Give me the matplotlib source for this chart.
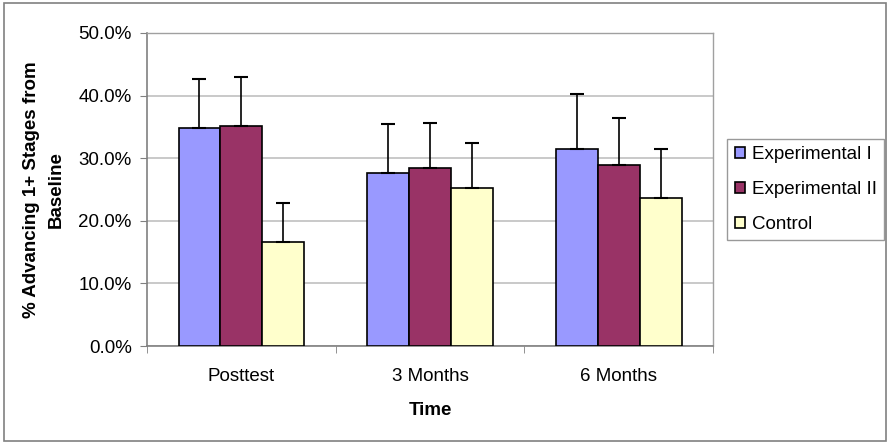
import numpy as np
import matplotlib
matplotlib.use("Agg")
import matplotlib.pyplot as plt
from matplotlib.patches import Rectangle
from matplotlib.ticker import PercentFormatter, FixedLocator

plt.rcParams["font.family"] = ["Liberation Sans", "DejaVu Sans"]

categories = ["Posttest", "3 Months", "6 Months"]
series_names = ["Experimental I", "Experimental II", "Control"]
exp1 = [34.9, 27.7, 31.5]
exp2 = [35.1, 28.4, 28.9]
control = [16.6, 25.2, 23.6]
exp1_err = [7.7, 7.7, 8.8]
exp2_err = [7.8, 7.3, 7.5]
control_err = [6.2, 7.2, 7.9]
colors = ["#9999ff", "#993366", "#ffffcc"]

fs = 13.5

fig = plt.figure(figsize=(8.9, 4.44), dpi=100)
ax = fig.add_axes([0.1652, 0.2207, 0.6360, 0.705])

x = np.arange(len(categories))
width = 0.222
values = [exp1, exp2, control]
errs = [exp1_err, exp2_err, control_err]
for i, (vals, err) in enumerate(zip(values, errs)):
    pos = x + (i - 1) * width
    ax.bar(pos, vals, width, color=colors[i], edgecolor="black", linewidth=1.2,
           label=series_names[i], zorder=3)
    ax.errorbar(pos, vals, yerr=[np.zeros(len(err)), err], fmt="none",
                ecolor="black", elinewidth=1.2, capsize=5, capthick=1.5, zorder=4)

ax.set_xlim(-0.5, len(categories) - 0.5)
ax.set_ylim(0, 50)
ax.yaxis.set_major_locator(FixedLocator([0, 10, 20, 30, 40, 50]))
ax.yaxis.set_major_formatter(PercentFormatter(decimals=1))
ax.set_xticks(x)
ax.set_xticklabels(categories)
ax.tick_params(axis="x", length=0, labelsize=fs, pad=16)
ax.tick_params(axis="y", length=5, labelsize=fs, color="#808080", pad=6)
# category boundary ticks
ax.set_xticks(np.arange(-0.5, len(categories)), minor=True)
ax.tick_params(axis="x", which="minor", length=5, color="#808080", direction="out")

ax.grid(axis="y", color="#c0c0c0", linewidth=1.2, zorder=0)
for side in ["left", "bottom"]:
    ax.spines[side].set_color("#808080")
    ax.spines[side].set_linewidth(1.2)
for side in ["right", "top"]:
    ax.spines[side].set_color("#a0a0a0")
    ax.spines[side].set_linewidth(1.0)

ax.set_xlabel("Time", fontsize=fs, fontweight="bold", labelpad=12)
ax.set_ylabel("% Advancing 1+ Stages from\nBaseline", fontsize=fs,
              fontweight="bold", labelpad=10, linespacing=1.55)

leg = ax.legend(loc="center left", bbox_to_anchor=(1.025, 0.5), fontsize=fs,
                frameon=True, fancybox=False, edgecolor="#808080",
                handlelength=0.55, handleheight=0.55, handletextpad=0.35,
                labelspacing=0.95, borderpad=0.4, borderaxespad=0)
leg.get_frame().set_linewidth(1.0)

fig.patches.append(Rectangle((0.004, 0.007), 0.992, 0.986, transform=fig.transFigure,
                             fill=False, edgecolor="#808080", linewidth=1.2))

fig.savefig("out.png", dpi=100)
